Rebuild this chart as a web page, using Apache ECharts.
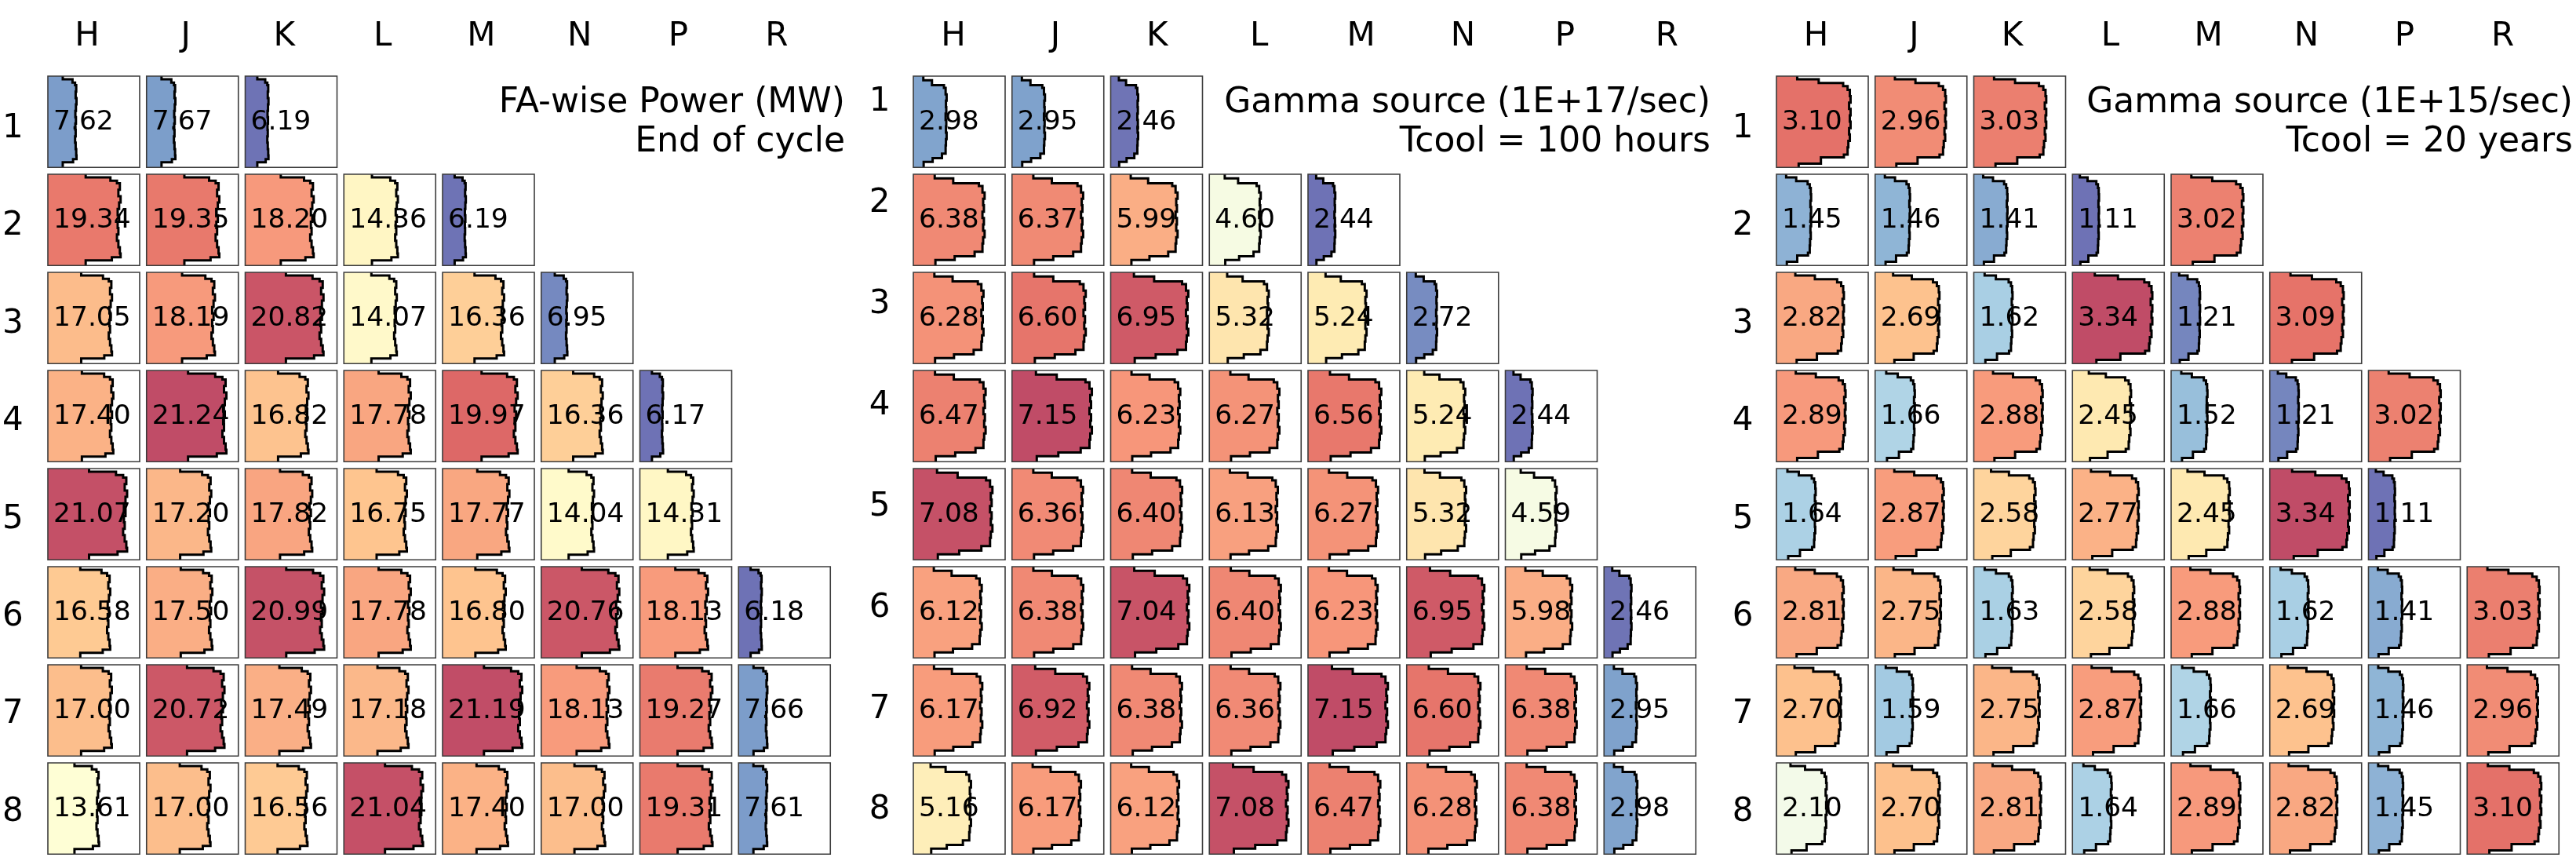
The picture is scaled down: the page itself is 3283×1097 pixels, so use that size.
<!DOCTYPE html>
<html>
<head>
<meta charset="utf-8">
<script src="https://cdn.jsdelivr.net/npm/echarts@6/dist/echarts.min.js"></script>
<style>
  html, body { margin: 0; padding: 0; background: #ffffff; }
  #chart { width: 3283px; height: 1097px; }
</style>
</head>
<body>
<div id="chart"></div>
<script>
// Core map labels
const columnLabels = ['H', 'J', 'K', 'L', 'M', 'N', 'P', 'R'];
const rowLabels = ['1', '2', '3', '4', '5', '6', '7', '8'];

// FA-wise power (MW), end of cycle; one list per row, starting at column H
const powerEOC = [
  [7.62, 7.67, 6.19],
  [19.34, 19.35, 18.20, 14.36, 6.19],
  [17.05, 18.19, 20.82, 14.07, 16.36, 6.95],
  [17.40, 21.24, 16.82, 17.78, 19.97, 16.36, 6.17],
  [21.07, 17.20, 17.82, 16.75, 17.77, 14.04, 14.31],
  [16.58, 17.50, 20.99, 17.78, 16.80, 20.76, 18.13, 6.18],
  [17.00, 20.72, 17.49, 17.18, 21.19, 18.13, 19.27, 7.66],
  [13.61, 17.00, 16.56, 21.04, 17.40, 17.00, 19.31, 7.61]
];

// Gamma source (1E+17/sec) after 100 hours of cooling
const gamma100h = [
  [2.98, 2.95, 2.46],
  [6.38, 6.37, 5.99, 4.60, 2.44],
  [6.28, 6.60, 6.95, 5.32, 5.24, 2.72],
  [6.47, 7.15, 6.23, 6.27, 6.56, 5.24, 2.44],
  [7.08, 6.36, 6.40, 6.13, 6.27, 5.32, 4.59],
  [6.12, 6.38, 7.04, 6.40, 6.23, 6.95, 5.98, 2.46],
  [6.17, 6.92, 6.38, 6.36, 7.15, 6.60, 6.38, 2.95],
  [5.16, 6.17, 6.12, 7.08, 6.47, 6.28, 6.38, 2.98]
];

// Gamma source (1E+15/sec) after 20 years of cooling
const gamma20y = [
  [3.10, 2.96, 3.03],
  [1.45, 1.46, 1.41, 1.11, 3.02],
  [2.82, 2.69, 1.62, 3.34, 1.21, 3.09],
  [2.89, 1.66, 2.88, 2.45, 1.52, 1.21, 3.02],
  [1.64, 2.87, 2.58, 2.77, 2.45, 3.34, 1.11],
  [2.81, 2.75, 1.63, 2.58, 2.88, 1.62, 1.41, 3.03],
  [2.70, 1.59, 2.75, 2.87, 1.66, 2.69, 1.46, 2.96],
  [2.10, 2.70, 2.81, 1.64, 2.89, 2.82, 1.45, 3.10]
];

const panelTitles = [
  'FA-wise Power (MW)\nEnd of cycle',
  'Gamma source (1E+17/sec)\nTcool = 100 hours',
  'Gamma source (1E+15/sec)\nTcool = 20 years'
];

// Axial shapes, top to bottom: segment edges (fraction of assembly height)
// and the relative width of each segment
const powerShapeZ = [0, 0.035, 0.07, 0.10, 0.17, 0.24, 0.31, 0.38, 0.45, 0.52, 0.59, 0.66, 0.73, 0.80, 0.87, 0.91, 0.945, 1];
const powerShapeW = [0.52, 0.86, 0.95, 0.99, 0.97, 1.0, 0.98, 0.96, 0.98, 0.96, 0.97, 0.95, 0.97, 0.99, 1.0, 0.88, 0.52];

const gamma100hShapeZ = [0, 0.045, 0.10, 0.13, 0.20, 0.27, 0.34, 0.41, 0.48, 0.55, 0.62, 0.69, 0.76, 0.85, 0.90, 0.94, 1];
const gamma100hShapeW = [0.30, 0.56, 0.92, 0.97, 1.0, 0.98, 0.99, 0.97, 0.99, 0.98, 1.0, 0.98, 0.97, 0.86, 0.58, 0.31];

const gamma20yShapeZ = [0, 0.035, 0.075, 0.11, 0.15, 0.22, 0.29, 0.36, 0.43, 0.50, 0.57, 0.64, 0.71, 0.78, 0.86, 0.89, 0.96, 1];
const gamma20yShapeW = [0.28, 0.57, 0.90, 0.96, 0.99, 1.0, 0.98, 1.0, 0.99, 1.0, 0.98, 0.99, 0.97, 0.96, 0.91, 0.60, 0.30];

// Diverging colour ramp (blue = low, red = high)
const rdYlBuR = ['#313695', '#4575b4', '#74add1', '#abd9e9', '#e0f3f8', '#ffffbf',
                 '#fee090', '#fdae61', '#f46d43', '#d73027', '#a50026'];

const panels = [
  { values: powerEOC, shapeZ: powerShapeZ, shapeW: powerShapeW },
  { values: gamma100h, shapeZ: gamma100hShapeZ, shapeW: gamma100hShapeW },
  { values: gamma20y, shapeZ: gamma20yShapeZ, shapeW: gamma20yShapeW }
];

// ---- layout ----
const FONT = '"DejaVu Sans", "Liberation Sans", sans-serif';
const panelLeft = [61, 1164, 2264];
const gridTop = 97;
const pitchX = 125.75, pitchY = 125.86;
const cellFracX = 117 / pitchX, cellFracY = 117 / pitchY;
const peakFrac = 0.87;          // widest profile of the hottest assembly, as part of the cell width

// label axes: left edge / band width of the column-label axis, top / band height of the row-label axis
const colLabelLeft = [47, 1150, 2252];
const colLabelPitch = [125.7, 129.9, 125.0];
const rowLabelTop = [102, 66, 102];
const rowLabelPitch = [125.86, 131, 125.86];
const rowLabelX = [15, 1121, 2221];
const colLabelY = 47;
const titleRight = [1077, 2180, 3279];

function makeRenderer(panel, vmax) {
  return function (params, api) {
    const c = api.value(0), r = api.value(1), v = api.value(2);
    const tl = api.coord([c, r]);
    const br = api.coord([c + cellFracX, r + cellFracY]);
    const x0 = tl[0], y0 = tl[1], w = br[0] - x0, h = br[1] - y0;
    const edge = [];
    for (let i = 0; i < panel.shapeW.length; i++) {
      const xx = c + cellFracX * peakFrac * (v / vmax) * panel.shapeW[i];
      edge.push(api.coord([xx, r + cellFracY * panel.shapeZ[i]]));
      edge.push(api.coord([xx, r + cellFracY * panel.shapeZ[i + 1]]));
    }
    const poly = [[x0, y0]].concat(edge).concat([[x0, br[1]]]);
    return {
      type: 'group',
      children: [
        { type: 'polygon', shape: { points: poly }, style: { fill: api.visual('color'), opacity: 0.7 } },
        { type: 'text', x: x0 + 7, y: y0 + h / 2 + 1,
          style: { text: v.toFixed(2), font: '34.5px ' + FONT, fill: '#000', align: 'left', verticalAlign: 'middle' } },
        { type: 'polyline', shape: { points: edge }, style: { stroke: '#000', lineWidth: 3, fill: null, lineJoin: 'miter' } },
        { type: 'rect', shape: { x: x0, y: y0, width: w, height: h }, style: { fill: null, stroke: '#3c3c3c', lineWidth: 1.6 } }
      ]
    };
  };
}

const grid = [], xAxis = [], yAxis = [], series = [], visualMap = [], graphic = [];

panels.forEach((panel, i) => {
  const flat = [];
  panel.values.forEach((row, r) => row.forEach((v, c) => flat.push([c, r, v])));
  const vals = flat.map(d => d[2]);
  const vmin = Math.min(...vals), vmax = Math.max(...vals);

  grid.push({ left: panelLeft[i], top: gridTop, width: 8 * pitchX, height: 8 * pitchY });
  xAxis.push({ type: 'value', gridIndex: i, min: 0, max: 8, show: false });
  yAxis.push({ type: 'value', gridIndex: i, min: 0, max: 8, inverse: true, show: false });

  series.push({
    type: 'custom', name: 'panel' + i, xAxisIndex: i, yAxisIndex: i,
    data: flat, renderItem: makeRenderer(panel, vmax), clip: false, silent: true
  });

  visualMap.push({
    type: 'continuous', show: false, seriesIndex: i, dimension: 2,
    min: vmin, max: vmax, inRange: { color: rdYlBuR }
  });

  graphic.push({
    type: 'text', x: titleRight[i], y: 157, silent: true,
    style: { text: panelTitles[i], font: '44px ' + FONT, fill: '#000',
             align: 'right', verticalAlign: 'middle', lineHeight: 50 }
  });
});

// label grids (3..5)
panels.forEach((panel, i) => {
  const gi = 3 + i;
  grid.push({ left: colLabelLeft[i], top: rowLabelTop[i], width: 8 * colLabelPitch[i], height: 8 * rowLabelPitch[i] });
  xAxis.push({
    type: 'category', gridIndex: gi, position: 'top', data: columnLabels,
    axisLine: { show: false }, axisTick: { show: false }, splitLine: { show: false },
    axisLabel: { fontFamily: FONT, fontSize: 42, color: '#000', margin: rowLabelTop[i] - colLabelY, verticalAlign: 'middle' }
  });
  yAxis.push({
    type: 'category', gridIndex: gi, inverse: true, data: rowLabels,
    axisLine: { show: false }, axisTick: { show: false }, splitLine: { show: false },
    axisLabel: { fontFamily: FONT, fontSize: 42, color: '#000', margin: colLabelLeft[i] - rowLabelX[i], align: 'center' }
  });
});

const chart = echarts.init(document.getElementById('chart'), null, { renderer: 'canvas' });
chart.setOption({
  animation: false,
  backgroundColor: '#ffffff',
  grid, xAxis, yAxis, visualMap, series, graphic
});
</script>
</body>
</html>
